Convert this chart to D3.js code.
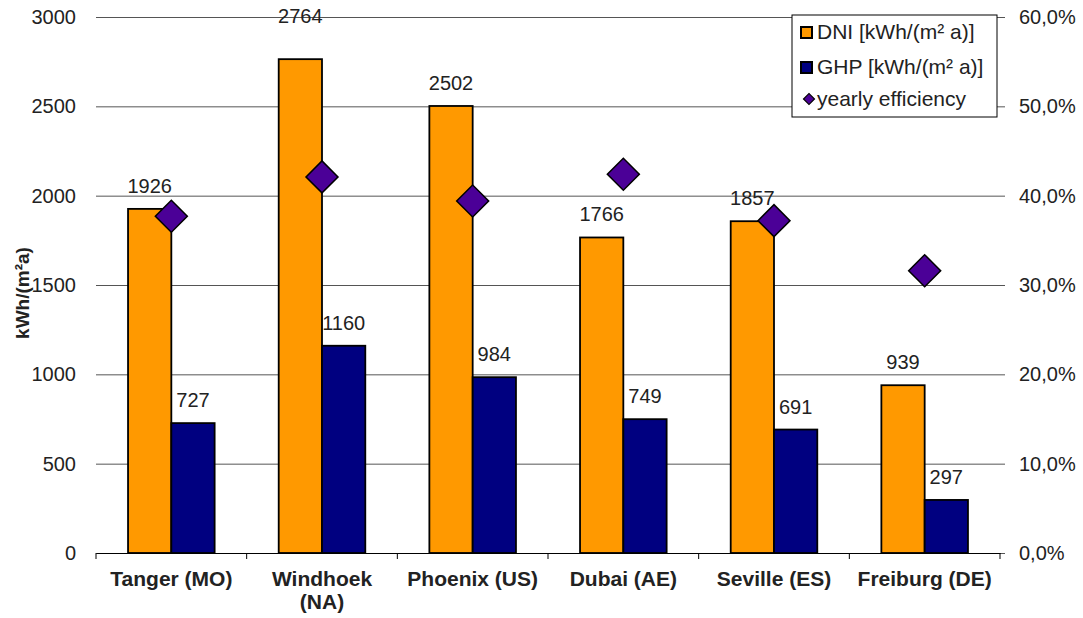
<!DOCTYPE html>
<html>
  <head>
    <meta charset="utf-8" />
    <title>DNI / GHP per site</title>
    <script src="https://d3js.org/d3.v7.min.js"></script>
    <style>
      body { margin: 0; background: #fff; }
      text { font-family: 'Liberation Sans', Arial, sans-serif; fill: #222; }
    </style>
  </head>
  <body>
    <script>
      // values
      const cities = ['Tanger (MO)', 'Windhoek (NA)', 'Phoenix (US)', 'Dubai (AE)', 'Seville (ES)', 'Freiburg (DE)'];
      const dni = [1926, 2764, 2502, 1766, 1857, 939];
      const ghp = [727, 1160, 984, 749, 691, 297];
      const efficiency = [37.7, 42.1, 39.4, 42.4, 37.2, 31.6]; // percent
      const leftTicks = [0, 500, 1000, 1500, 2000, 2500, 3000];
      const rightTicks = [0, 10, 20, 30, 40, 50, 60];
      const seriesNames = ['DNI [kWh/(m² a)]', 'GHP [kWh/(m² a)]', 'yearly efficiency'];

      const W = 1083, H = 618;
      const margin = { top: 17, right: 83, bottom: 65, left: 96 };
      const w = W - margin.left - margin.right;
      const h = H - margin.top - margin.bottom;

      const colors = { dni: '#ff9900', ghp: '#000080', eff: '#4b0097' };

      const svg = d3.select('body').append('svg')
        .attr('width', W)
        .attr('height', H);

      const g = svg.append('g')
        .attr('transform', 'translate(' + margin.left + ',' + margin.top + ')');

      const x0 = d3.scaleBand().domain(cities).range([0, w]);
      const x1 = d3.scaleBand().domain(['dni', 'ghp']).range([0, x0.bandwidth()]).paddingOuter(0.74);
      const y = d3.scaleLinear().domain([0, 3000]).range([h, 0]);
      const y2 = d3.scaleLinear().domain([0, 60]).range([h, 0]);

      // left axis + gridlines
      const yAxis = g.append('g')
        .call(d3.axisLeft(y).tickValues(leftTicks).tickSize(-w).tickPadding(20).tickFormat(d3.format('d')));
      yAxis.select('.domain').remove();
      yAxis.selectAll('.tick line').attr('stroke', '#555');
      yAxis.selectAll('.tick text').style('font-size', '20px');

      // right axis
      const y2Axis = g.append('g')
        .attr('transform', 'translate(' + w + ',0)')
        .call(d3.axisRight(y2).tickValues(rightTicks).tickSize(5).tickPadding(14)
          .tickFormat(d => d3.format('.1f')(d).replace('.', ',') + '%'));
      y2Axis.select('.domain').remove();
      y2Axis.selectAll('.tick line').attr('stroke', '#555');
      y2Axis.selectAll('.tick text').style('font-size', '20px');

      // bottom axis
      const xAxis = g.append('g')
        .attr('transform', 'translate(0,' + h + ')')
        .call(d3.axisBottom(x0).tickSize(0).tickPadding(18));
      xAxis.select('.domain').attr('stroke', '#000');
      xAxis.selectAll('.tick text')
        .style('font-size', '21px')
        .style('font-weight', 'bold')
        .each(function (d) {
          const t = d3.select(this);
          if (this.getComputedTextLength() > x0.bandwidth() - 10) {
            const parts = d.split(' ');
            t.text(null);
            t.append('tspan').attr('x', 0).attr('dy', '0.71em').text(parts[0]);
            t.append('tspan').attr('x', 0).attr('dy', '1.1em').text(parts.slice(1).join(' '));
            t.attr('dy', null);
          }
        });
      // category separators
      g.append('g').selectAll('line')
        .data(cities.map((c, i) => i).concat([cities.length]))
        .join('line')
        .attr('x1', i => i * x0.step())
        .attr('x2', i => i * x0.step())
        .attr('y1', h)
        .attr('y2', h + 6)
        .attr('stroke', '#000');

      // bars
      const rows = cities.map((c, i) => ({ city: c, dni: dni[i], ghp: ghp[i], eff: efficiency[i] }));
      const groups = g.append('g').selectAll('g')
        .data(rows)
        .join('g')
        .attr('transform', d => 'translate(' + x0(d.city) + ',0)');

      groups.selectAll('rect')
        .data(d => ['dni', 'ghp'].map(k => ({ key: k, value: d[k], city: d.city })))
        .join('rect')
        .attr('x', d => x1(d.key))
        .attr('y', d => y(d.value))
        .attr('width', x1.bandwidth())
        .attr('height', d => h - y(d.value))
        .attr('fill', d => colors[d.key])
        .attr('stroke', '#000')
        .attr('stroke-width', 1.8);

      // value labels (Windhoek DNI label sits higher in the original)
      groups.selectAll('text.val')
        .data(d => ['dni', 'ghp'].map(k => ({ key: k, value: d[k], city: d.city })))
        .join('text')
        .attr('class', 'val')
        .attr('x', d => x1(d.key) + x1.bandwidth() / 2)
        .attr('y', d => y(d.value) - 16 - (d.city === 'Windhoek (NA)' && d.key === 'dni' ? 20 : 0))
        .attr('text-anchor', 'middle')
        .style('font-size', '20px')
        .text(d => d.value);

      // efficiency diamonds
      const diamond = d3.symbol().type(d3.symbolSquare).size(512);
      g.append('g').selectAll('path')
        .data(rows)
        .join('path')
        .attr('d', diamond)
        .attr('transform', d => 'translate(' + (x0(d.city) + x0.bandwidth() / 2) + ',' + y2(d.eff) + ') rotate(45)')
        .attr('fill', colors.eff)
        .attr('stroke', '#000')
        .attr('stroke-width', 1.5);

      // legend
      const legend = svg.append('g').attr('transform', 'translate(792,15)');
      legend.append('rect')
        .attr('width', 205)
        .attr('height', 102)
        .attr('fill', '#fff')
        .attr('stroke', '#000')
        .attr('stroke-width', 1);

      const rowY = [17, 52, 84];
      [colors.dni, colors.ghp].forEach((c, i) => {
        legend.append('rect')
          .attr('x', 9)
          .attr('y', rowY[i] - 5)
          .attr('width', 11)
          .attr('height', 11)
          .attr('fill', c)
          .attr('stroke', '#000')
          .attr('stroke-width', 2);
      });
      legend.append('path')
        .attr('d', d3.symbol().type(d3.symbolSquare).size(60))
        .attr('transform', 'translate(17,' + rowY[2] + ') rotate(45)')
        .attr('fill', colors.eff)
        .attr('stroke', '#000')
        .attr('stroke-width', 1.2);
      legend.selectAll('text.leg')
        .data(seriesNames)
        .join('text')
        .attr('class', 'leg')
        .attr('x', 25)
        .attr('y', (d, i) => rowY[i] + 7)
        .style('font-size', '21px')
        .text(d => d);

      // y axis title
      svg.append('text')
        .attr('transform', 'translate(29,293) rotate(-90)')
        .attr('text-anchor', 'middle')
        .style('font-size', '19px')
        .style('font-weight', 'bold')
        .text('kWh/(m²a)');
    </script>
  </body>
</html>
